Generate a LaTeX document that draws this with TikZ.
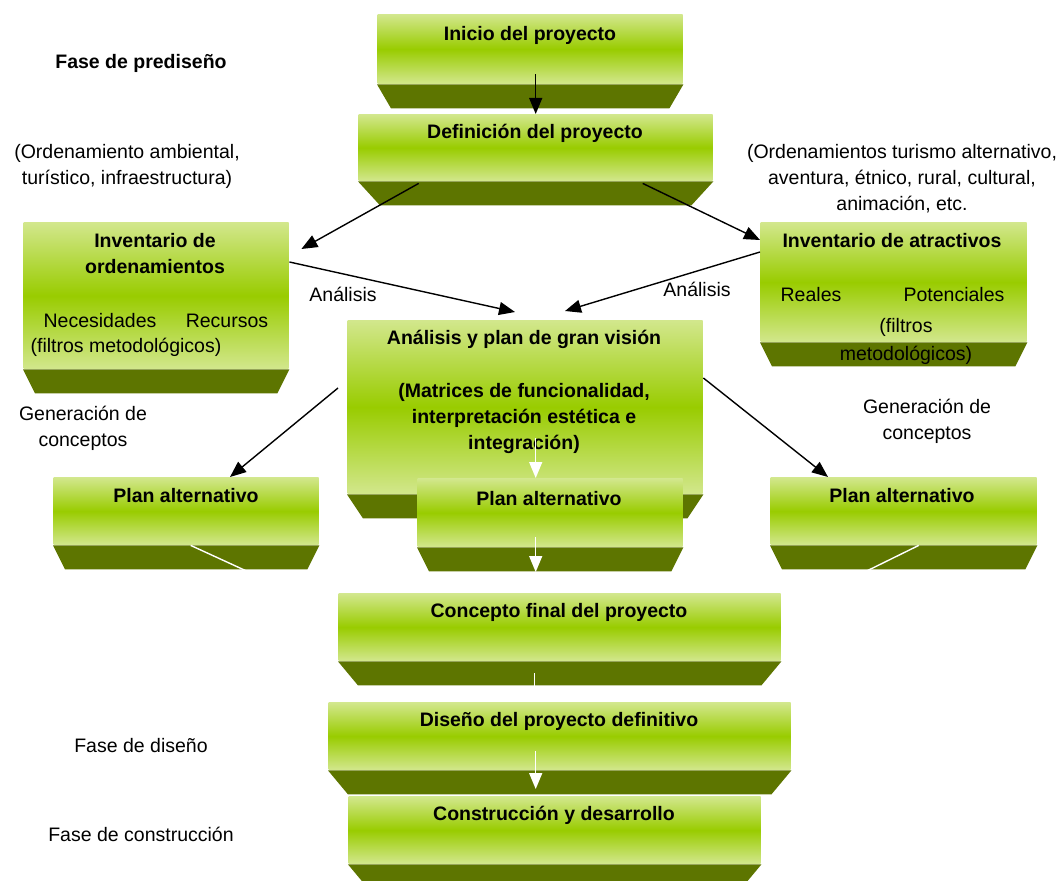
\documentclass[tikz,border=0pt]{standalone}
\usepackage{fontspec}
\setmainfont{Liberation Sans}
\usetikzlibrary{arrows.meta}
\definecolor{verdeclaro}{RGB}{210,231,140}
\definecolor{verdevivo}{RGB}{153,204,0}
\definecolor{oliva}{RGB}{93,117,0}

\begin{document}
\begin{tikzpicture}[x=1pt,y=-1pt,
	cara/.style={rectangle, anchor=north west, inner sep=0pt,
	top color=verdeclaro, bottom color=verdeclaro, middle color=verdevivo},
	base/.style={fill=oliva},
	titulo/.style={font=\bfseries\fontsize{19.5}{26}\selectfont, align=center, inner sep=0pt},
	texto/.style={font=\fontsize{19.5}{26}\selectfont, align=center, inner sep=0pt},
	flecha/.style={->, black},
	blanca/.style={->, white},
	>={Triangle[length=16pt,width=13pt]}, line width=1.4pt]

\useasboundingbox (0,0) rectangle (1064,880);

% cajas con su base
\foreach \n/\x/\y/\w/\h/\d in {
	inicio/377/14/305/69/14,
	definicion/358/114/354/66/22,
	invord/23/222/265/146/12,
	invatr/760/222/266/119/12,
	analisis/347/320/355/173/16,
	planc/417/478/265/68/12,
	planl/53/477/265/67/12,
	planr/770/477/266/67/12,
	concepto/338/593/442/67/20,
	diseno/328/702/462/67/20,
	construccion/348/796/412/67/20}
{
	\node[cara, minimum width=\w pt, minimum height=\h pt] (\n) at (\x,\y) {};
	\fill[base] (\n.south west) -- (\n.south east) -- ([xshift=-\d pt,yshift=-24pt]\n.south east)
		-- ([xshift=\d pt,yshift=-24pt]\n.south west) -- cycle;
}

\node[titulo] (t-inicio) at (530,35) {Inicio del proyecto};
\node[titulo] (t-def) at (535,133) {Definición del proyecto};
\node[titulo] (t-invord) at (155,254) {Inventario de\\ordenamientos};
\node[texto] (necesidades) at (100,321) {Necesidades};
\node[texto] (recursos) at (227,321) {Recursos};
\node[texto] (filtros-o) at (126,347) {(filtros metodológicos)};
\node[titulo] (t-invatr) at (892,241) {Inventario de atractivos};
\node[texto] (reales) at (811,295) {Reales};
\node[texto] (potenciales) at (954,295) {Potenciales};
\node[texto] (filtros-a) at (906,341) {(filtros\\[2pt]metodológicos)};
\node[titulo] (t-analisis) at (524,339) {Análisis y plan de gran visión};
\node[titulo] (t-matrices) at (524,418) {(Matrices de funcionalidad,\\interpretación estética e\\integración)};
\node[titulo] (t-planc) at (549,499) {Plan alternativo};
\node[titulo] (t-planl) at (186,496) {Plan alternativo};
\node[titulo] (t-planr) at (902,496) {Plan alternativo};
\node[titulo] (t-concepto) at (559,612) {Concepto final del proyecto};
\node[titulo] (t-diseno) at (559,721) {Diseño del proyecto definitivo};
\node[titulo] (t-constr) at (554,815) {Construcción y desarrollo};

% textos sueltos
\node[titulo] (prediseno) at (141,63) {Fase de prediseño};
\node[texto] (nota-ord) at (127,166) {(Ordenamiento ambiental,\\turístico, infraestructura)};
\node[texto] (nota-atr) at (902,179) {(Ordenamientos turismo alternativo,\\aventura, étnico, rural, cultural,\\animación, etc.};
\node[texto] (analisis-i) at (343,294) {Análisis};
\node[texto] (analisis-d) at (697,289) {Análisis};
\node[texto] (gen-i) at (83,428) {Generación de\\conceptos};
\node[texto] (gen-d) at (927,421) {Generación de\\conceptos};
\node[texto] (fase-dis) at (141,746) {Fase de diseño};
\node[texto] (fase-cons) at (141,834) {Fase de construcción};

% flechas
\draw[flecha] ([xshift=5.5pt,yshift=10pt]inicio.south) -- (definicion.north);
\draw[flecha] ([xshift=-117pt,yshift=-2pt]definicion.south) -- ([xshift=12pt,yshift=-27pt]invord.north east);
\draw[flecha] ([xshift=107pt,yshift=-2pt]definicion.south) -- ([yshift=-18pt]invatr.north west);
\draw[flecha] ([yshift=-40pt]invord.north east) -- ([xshift=168pt,yshift=8pt]analisis.north west);
\draw[flecha] ([yshift=-30pt]invatr.north west) -- ([xshift=218pt,yshift=9pt]analisis.north west);
\draw[flecha] ([xshift=-9pt,yshift=-68pt]analisis.north west) -- ([xshift=177pt]planl.north west);
\draw[flecha] ([yshift=-58pt]analisis.north east) -- ([xshift=58pt]planr.north west);
\draw[blanca] ([xshift=10.5pt,yshift=56pt]analisis.south) -- ([xshift=-14.5pt]planc.north);
\draw[blanca] ([xshift=-14.5pt,yshift=10pt]planc.south) -- ([xshift=-24pt,yshift=21pt]concepto.north);
\draw[blanca] ([xshift=4.5pt]planl.south) -- ([yshift=-20pt]concepto.north west);
\draw[blanca] ([xshift=15pt]planr.south) -- ([yshift=-20pt]concepto.north east);
\draw[blanca] ([xshift=-25pt,yshift=-12pt]concepto.south) -- ([xshift=-25pt]diseno.north);
\draw[blanca] ([xshift=-24pt,yshift=19pt]diseno.south) -- ([xshift=-19pt,yshift=7pt]construccion.north);
\end{tikzpicture}
\end{document}
